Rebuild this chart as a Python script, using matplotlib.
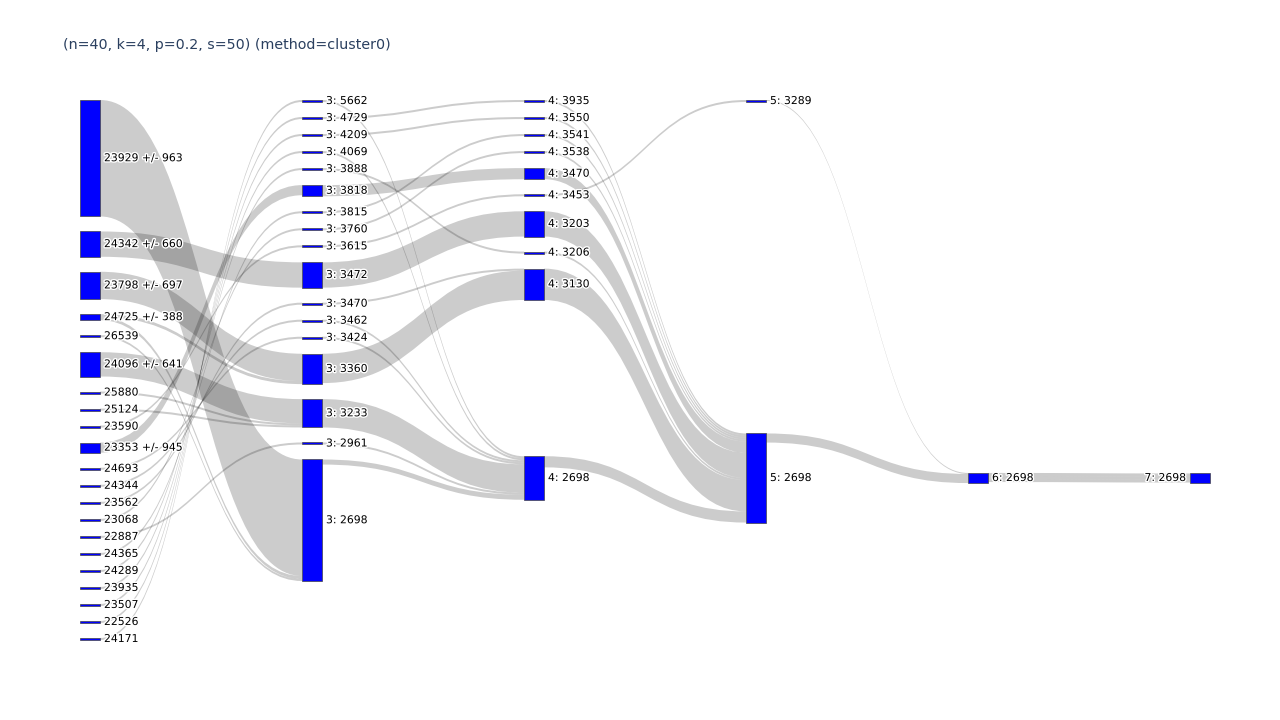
import matplotlib
matplotlib.use("Agg")
import matplotlib.pyplot as plt
import matplotlib.patheffects as pe
from matplotlib.path import Path
from matplotlib.patches import PathPatch, Rectangle

TITLE = "(n=40, k=4, p=0.2, s=50) (method=cluster0)"

# node labels, one list per generation column (top to bottom)
gen0 = ["23929 +/- 963", "24342 +/- 660", "23798 +/- 697", "24725 +/- 388", "26539",
        "24096 +/- 641", "25880", "25124", "23590", "23353 +/- 945", "24693", "24344",
        "23562", "23068", "22887", "24365", "24289", "23935", "23507", "22526", "24171"]
gen1 = ["3: 5662", "3: 4729", "3: 4209", "3: 4069", "3: 3888", "3: 3818", "3: 3815",
        "3: 3760", "3: 3615", "3: 3472", "3: 3470", "3: 3462", "3: 3424", "3: 3360",
        "3: 3233", "3: 2961", "3: 2698"]
gen2 = ["4: 3935", "4: 3550", "4: 3541", "4: 3538", "4: 3470", "4: 3453", "4: 3203",
        "4: 3206", "4: 3130", "4: 2698"]
gen3 = ["5: 3289", "5: 2698"]
gen4 = ["6: 2698"]
gen5 = ["7: 2698"]

# links: source label, target label, value
link_src = [
    "23929 +/- 963", "24342 +/- 660", "23798 +/- 697", "24725 +/- 388", "24725 +/- 388",
    "26539", "24096 +/- 641", "25880", "25124", "23353 +/- 945",
    "23590", "24693", "24344", "23562", "23068", "22887", "24365", "24289", "23935",
    "23507", "22526", "24171",
    "3: 5662", "3: 4729", "3: 4209", "3: 4069", "3: 3888", "3: 3818", "3: 3815",
    "3: 3760", "3: 3615", "3: 3472", "3: 3470", "3: 3462", "3: 3424", "3: 3360",
    "3: 3233", "3: 2961", "3: 2698",
    "4: 3935", "4: 3550", "4: 3541", "4: 3538", "4: 3470", "4: 3453", "4: 3203",
    "4: 3206", "4: 3130", "4: 2698",
    "5: 2698", "5: 3289",
    "6: 2698", "6: 2698", "6: 2698",
]
link_dst = [
    "3: 2698", "3: 3472", "3: 3360", "3: 3360", "3: 2698",
    "3: 2698", "3: 3233", "3: 3233", "3: 3233", "3: 3818",
    "3: 3615", "3: 3424", "3: 3462", "3: 3470", "3: 3760", "3: 2961", "3: 3815", "3: 3888",
    "3: 4069", "3: 4209", "3: 4729", "3: 5662",
    "4: 2698", "4: 3935", "4: 3550", "4: 2698", "4: 3206", "4: 3470", "4: 3541",
    "4: 3538", "4: 3453", "4: 3203", "4: 3130", "4: 2698", "4: 2698", "4: 3130",
    "4: 2698", "4: 2698", "4: 2698",
    "5: 2698", "5: 2698", "5: 2698", "5: 2698", "5: 2698", "5: 3289", "5: 2698",
    "5: 2698", "5: 2698", "5: 2698",
    "6: 2698", "6: 2698",
    "7: 2698", "7: 2698", "7: 2698",
]
link_val = [
    57.5, 12.5, 13.5, 1.5, 1.5,
    1, 12, 1, 1, 5,
    1, 1, 1, 1, 1, 1, 1, 1, 1,
    1, 1, 1,
    1, 1, 1, 1, 1, 5.5, 1,
    1, 1, 12.5, 1, 1, 1, 14.5,
    14, 1, 2.5,
    1, 1, 1, 1, 5.5, 1, 12.5,
    1, 15.5, 5.5,
    4.5, 0.5,
    1.5, 1.5, 1.5,
]

BEST = "2698"

# layout (pixels)
W, H_FIG = 1280, 720
TOP, BOTTOM = 100, 640
LEFT, RIGHT = 80, 1210
NODE_W = 20
PAD = 15
BEST_FRAC = 0.7

columns = [gen0, gen1, gen2, gen3, gen4, gen5]
node_col = {lab: i for i, col in enumerate(columns) for lab in col}

in_sum = {lab: 0.0 for lab in node_col}
out_sum = {lab: 0.0 for lab in node_col}
for s, t, v in zip(link_src, link_dst, link_val):
    out_sum[s] += v
    in_sum[t] += v
node_val = {lab: max(in_sum[lab], out_sum[lab]) for lab in node_col}

height = BOTTOM - TOP
ky = min((height - (len(col) - 1) * PAD) / sum(node_val[l] for l in col) for col in columns)
step = (RIGHT - LEFT - NODE_W) / (len(columns) - 1)

node_x = {}
node_y = {}
node_h = {}
for i, col in enumerate(columns):
    y = TOP
    for lab in col:
        h = node_val[lab] * ky
        top = y
        # the lineage of the best solution is aligned on one row
        if i > 0 and lab.endswith(BEST):
            top = max(top, TOP + BEST_FRAC * height - h / 2)
        node_x[lab] = LEFT + i * step
        node_y[lab] = top
        node_h[lab] = h
        y = top + h + PAD


def center(lab):
    return node_y[lab] + node_h[lab] / 2


# stack links on each node, ordered by the position of the other end
links = list(zip(link_src, link_dst, link_val))
src_off = {}
dst_off = {}
for lab in node_col:
    outs = sorted([k for k, l in enumerate(links) if l[0] == lab], key=lambda k: center(links[k][1]))
    y = node_y[lab]
    for k in outs:
        src_off[k] = y
        y += links[k][2] * ky
    ins = sorted([k for k, l in enumerate(links) if l[1] == lab], key=lambda k: center(links[k][0]))
    y = node_y[lab]
    for k in ins:
        dst_off[k] = y
        y += links[k][2] * ky

fig = plt.figure(figsize=(12.8, 7.2), dpi=100)
ax = fig.add_axes([0, 0, 1, 1])
ax.set_xlim(0, W)
ax.set_ylim(H_FIG, 0)
ax.axis("off")

for k, (s, t, v) in enumerate(links):
    w = v * ky
    x0 = node_x[s] + NODE_W
    x1 = node_x[t]
    xm = (x0 + x1) / 2
    a0, a1 = src_off[k], dst_off[k]
    verts = [(x0, a0), (xm, a0), (xm, a1), (x1, a1),
             (x1, a1 + w), (xm, a1 + w), (xm, a0 + w), (x0, a0 + w), (x0, a0)]
    codes = [Path.MOVETO, Path.CURVE4, Path.CURVE4, Path.CURVE4,
             Path.LINETO, Path.CURVE4, Path.CURVE4, Path.CURVE4, Path.CLOSEPOLY]
    ax.add_patch(PathPatch(Path(verts, codes), facecolor=(0, 0, 0, 0.2), edgecolor="none"))

halo = [pe.withStroke(linewidth=2, foreground="white")]
last = len(columns) - 1
for lab in node_col:
    ax.add_patch(Rectangle((node_x[lab], node_y[lab]), NODE_W, node_h[lab],
                           facecolor="#0000ff", edgecolor="#444444", linewidth=0.5))
    if node_col[lab] == last:
        ax.text(node_x[lab] - 4, center(lab), lab, ha="right", va="center",
                fontsize=7.8, color="black", path_effects=halo)
    else:
        ax.text(node_x[lab] + NODE_W + 4, center(lab), lab, ha="left", va="center",
                fontsize=7.8, color="black", path_effects=halo)

fig.text(63 / W, 1 - 45 / H_FIG, TITLE, ha="left", va="center", fontsize=10.3, color="#2a3f5f")

fig.savefig("out.png", dpi=100)
